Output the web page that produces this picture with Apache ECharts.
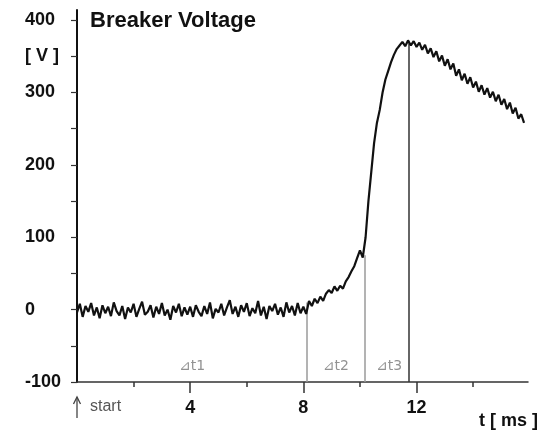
<!DOCTYPE html>
<html>
<head>
<meta charset="utf-8">
<script src="https://cdn.jsdelivr.net/npm/echarts@6/dist/echarts.min.js"></script>
<style>
html,body{margin:0;padding:0;background:#fff;}
#c{width:553px;height:431px;}
</style>
</head>
<body>
<div id="c"></div>
<script>
// ---- data (time in ms, voltage in V) ----
const sampleStepMs = 0.1;
const voltage = [
  -4, 8, -10, 5, -3, 9, -8, 3, -12, 6,
  -5, 4, -9, 10, -2, -8, 5, -13, 3, -4,
  8, -10, 1, 11, -7, -3, 6, -11, 4, -6,
  9, -8, 0, -14, 5, -4, 8, -9, 3, -7,
  4, -10, 6, -3, -9, 5, -6, 10, -12, 1,
  -4, 8, -8, 3, 13, -6, 4, -10, 6, -3,
  9, -9, 2, -5, 12, -8, 4, -13, 5, -2,
  8, -7, 3, -10, 10, -4, 5, -8, 9, -5,
  4, -6,
  12, 5, 15, 9, 18, 12, 22, 27, 23, 32,
  26, 33, 29, 39, 45, 53, 60, 71, 82, 72,
  100, 150, 190, 230, 258, 276, 300, 318, 330, 342,
  352, 360, 365, 370, 364, 372, 365, 371, 363, 369,
  359, 366, 354, 361, 349, 357, 343, 351, 337, 346,
  332, 340, 323, 332, 317, 326, 312, 321, 307, 315,
  301, 310, 297, 306, 293, 301, 288, 297, 283, 291,
  277, 286, 271, 279, 264, 270, 258
];
const yTickValues = [-100, -50, 0, 50, 100, 150, 200, 250, 300, 350, 400];
const yLabelValues = [-100, 0, 100, 200, 300, 350, 400];
const yUnitLabel = '[ V ]';
const xMajorTicks = [4, 8, 12];
const xMinorTicks = [2, 6, 10, 14];
const xAxisName = 't [ ms ]';
const titleText = 'Breaker Voltage';
const startLabel = 'start';
const markerTimes = [8.13, 10.18, 11.73];
const markerTops = [10, 75, 368];
const deltaNames = ['⊿t1', '⊿t2', '⊿t3'];
const deltaTimes = [4.07, 9.15, 11.03];
const deltaLevel = -79;
const yMin = -100, yMax = 414, xMin = 0, xMax = 15.94;

const series = voltage.map((v, i) => [+(i * sampleStepMs).toFixed(2), v]);
const markerColors = ['#9a9a9a', '#9a9a9a', '#333333'];

const chart = echarts.init(document.getElementById('c'), null, {renderer: 'canvas'});
const FONT = '"Liberation Sans", Arial, sans-serif';

chart.setOption({
  animation: false,
  backgroundColor: '#ffffff',
  title: {
    text: titleText, left: 90, top: 10, padding: 0,
    textStyle: {fontFamily: FONT, fontWeight: 'bold', fontSize: 22, color: '#111'}
  },
  grid: {left: 77, right: 25, top: 10, bottom: 49, containLabel: false, outerBoundsMode: 'none'},
  xAxis: [{
    type: 'value', min: xMin, max: xMax, gridIndex: 0,
    axisLine: {show: true, onZero: false, lineStyle: {color: '#333', width: 1.5}},
    axisTick: {show: true, customValues: xMajorTicks, length: 11, lineStyle: {color: '#333', width: 1.5}},
    axisLabel: {show: true, customValues: xMajorTicks, margin: 17, fontFamily: FONT, fontWeight: 'bold', fontSize: 18, color: '#111'},
    splitLine: {show: false}
  }, {
    type: 'value', min: xMin, max: xMax, gridIndex: 0, position: 'bottom',
    axisLine: {show: false, onZero: false},
    axisTick: {show: true, customValues: xMinorTicks, length: 5, lineStyle: {color: '#333', width: 1.5}},
    axisLabel: {show: false},
    splitLine: {show: false}
  }],
  yAxis: {
    type: 'value', min: yMin, max: yMax,
    axisLine: {show: true, onZero: false, lineStyle: {color: '#111', width: 2}},
    axisTick: {show: true, customValues: yTickValues, length: 6, lineStyle: {color: '#333', width: 1.2}},
    axisLabel: {
      show: true, customValues: yLabelValues, margin: 52, align: 'left',
      fontFamily: FONT, fontWeight: 'bold', fontSize: 18, color: '#111',
      formatter: v => (v === 350 ? yUnitLabel : String(v))
    },
    splitLine: {show: false}
  },
  series: [{
    type: 'line', data: series, showSymbol: false, symbol: 'none',
    lineStyle: {color: '#111', width: 2.2}, z: 5,
    markLine: {
      silent: true, symbol: 'none', label: {show: false}, z: 3,
      data: markerTimes.map((t, i) => [
        {coord: [t, yMin], lineStyle: {color: markerColors[i], width: 1.5, type: 'solid'}},
        {coord: [t, markerTops[i]]}
      ])
    }
  }, {
    type: 'scatter', symbolSize: 0, silent: true,
    data: deltaTimes.map((t, i) => ({name: deltaNames[i], value: [t, deltaLevel]})),
    label: {
      show: true, position: 'inside', formatter: p => p.name,
      fontFamily: '"DejaVu Sans", sans-serif', fontSize: 14, color: '#777'
    }
  }]
});

const p = chart.convertToPixel({gridIndex: 0}, [xMin, yMin]);
const q = chart.convertToPixel({gridIndex: 0}, [xMax, yMin]);
chart.setOption({
  graphic: [
    {type: 'line', shape: {x1: p[0], y1: p[1] + 15, x2: p[0], y2: p[1] + 36}, style: {stroke: '#444', lineWidth: 1.3}},
    {type: 'polyline', shape: {points: [[p[0] - 3.5, p[1] + 22], [p[0], p[1] + 15], [p[0] + 3.5, p[1] + 22]]}, style: {stroke: '#444', lineWidth: 1.3, fill: null}},
    {type: 'text', x: p[0] + 13, y: p[1] + 17, style: {text: startLabel, fontFamily: FONT, fontSize: 16, fill: '#555', textVerticalAlign: 'top'}},
    {type: 'text', x: q[0] + 10, y: q[1] + 30, style: {text: xAxisName, fontFamily: FONT, fontWeight: 'bold', fontSize: 18, fill: '#111', textAlign: 'right', textVerticalAlign: 'top'}}
  ]
});
</script>
</body>
</html>
